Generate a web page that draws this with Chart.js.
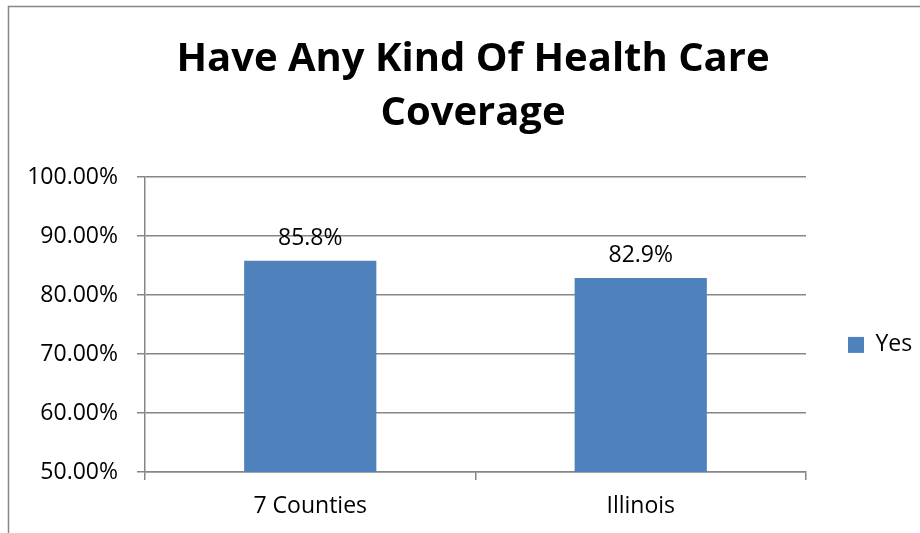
<!DOCTYPE html>
<html>
<head>
<meta charset="utf-8">
<title>Have Any Kind Of Health Care Coverage</title>
<script src="https://cdn.jsdelivr.net/npm/chart.js@4"></script>
<style>
    html, body { margin: 0; padding: 0; background: #ffffff; }
    #wrap { width: 920px; height: 533px; position: relative; }
</style>
</head>
<body>
<div id="wrap"><canvas id="coverage-chart"></canvas></div>
<script>
// Share of adults with any kind of health care coverage
const regions = ['7 Counties', 'Illinois'];
const yesValues = [85.8, 82.9];
const seriesName = 'Yes';
const titleLines = ['Have Any Kind Of Health Care', 'Coverage'];

const gridGray = '#868686';
const barBlue = '#4f81bd';
const labelFont = { family: "'Open Sans', 'Noto Sans', sans-serif", size: 23 };

// Thin gray frame around the whole chart object
const framePlugin = {
    id: 'frame',
    beforeDraw(chart) {
        const ctx = chart.ctx;
        ctx.save();
        ctx.fillStyle = '#ffffff';
        ctx.fillRect(0, 0, chart.width, chart.height);
        ctx.strokeStyle = gridGray;
        ctx.lineWidth = 1.5;
        ctx.strokeRect(8.5, 6.5, 1000, 1000);
        ctx.restore();
    }
};

// Value labels above each bar
const valueLabels = {
    id: 'valueLabels',
    afterDatasetsDraw(chart) {
        const ctx = chart.ctx;
        ctx.save();
        ctx.font = `${labelFont.size}px ${labelFont.family}`;
        ctx.fillStyle = '#000000';
        ctx.textAlign = 'center';
        ctx.textBaseline = 'middle';
        chart.getDatasetMeta(0).data.forEach((bar, i) => {
            ctx.fillText(yesValues[i].toFixed(1) + '%', bar.x, bar.y - 22);
        });
        ctx.restore();
    }
};

new Chart(document.getElementById('coverage-chart'), {
    type: 'bar',
    data: {
        labels: regions,
        datasets: [{
            label: seriesName,
            data: yesValues,
            backgroundColor: barBlue,
            categoryPercentage: 1,
            barPercentage: 0.4
        }]
    },
    options: {
        responsive: true,
        maintainAspectRatio: false,
        animation: false,
        layout: {
            padding: { left: 26, right: 0, top: 0, bottom: 0 }
        },
        plugins: {
            tooltip: { enabled: false },
            title: {
                display: true,
                text: titleLines,
                color: '#000000',
                font: { family: "'Open Sans', sans-serif", size: 40, weight: 'bold', lineHeight: 1.35 },
                padding: { top: 32.5, bottom: 36.5 }
            },
            legend: {
                position: 'right',
                align: 'start',
                fullSize: false,
                maxWidth: 114,
                title: {
                    display: true,
                    text: '',
                    padding: { top: 100, bottom: 0 }
                },
                labels: {
                    boxWidth: 16,
                    boxHeight: 16,
                    padding: 42,
                    color: '#000000',
                    font: labelFont
                }
            }
        },
        scales: {
            x: {
                afterFit(scale) { scale.height = 61; },
                grid: {
                    offset: true,
                    drawOnChartArea: false,
                    tickLength: 8,
                    color: gridGray,
                    lineWidth: 1.5
                },
                border: { color: gridGray, width: 1.5 },
                ticks: { color: '#000000', font: labelFont, padding: 13 }
            },
            y: {
                min: 50,
                max: 100,
                afterFit(scale) { scale.width = 119; },
                grid: {
                    color: gridGray,
                    lineWidth: 1.5,
                    tickLength: 8
                },
                border: { color: gridGray, width: 1.5 },
                ticks: {
                    stepSize: 10,
                    color: '#000000',
                    font: labelFont,
                    padding: 19,
                    callback: value => value.toFixed(2) + '%'
                }
            }
        }
    },
    plugins: [framePlugin, valueLabels]
});
</script>
</body>
</html>
